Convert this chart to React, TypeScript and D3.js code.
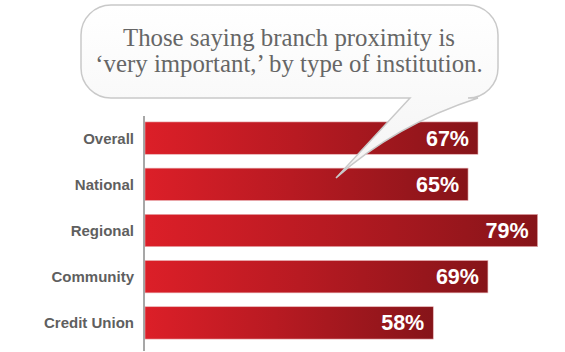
import React, { useEffect, useRef } from 'react';
import * as d3 from 'd3';

const categories = ['Overall', 'National', 'Regional', 'Community', 'Credit Union'];
const values = [67, 65, 79, 69, 58];
const titleLines = ['Those saying branch proximity is', '\u2018very important,\u2019 by type of institution.'];

const W = 565;
const H = 352;

export default function App() {
  const ref = useRef<SVGSVGElement>(null);

  useEffect(() => {
    const svg = d3.select(ref.current);
    svg.selectAll('*').remove();

    const x = d3.scaleLinear().domain([0, 100]).range([145, 642]);
    const y = d3.scaleBand<string>().domain(categories).range([115, 346]).paddingInner(0.3).paddingOuter(0.15);

    const defs = svg.append('defs');
    const grad = defs.append('linearGradient').attr('id', 'barGrad').attr('x1', 0).attr('x2', 1).attr('y1', 0).attr('y2', 0);
    grad.append('stop').attr('offset', '0%').attr('stop-color', '#dc1f28');
    grad.append('stop').attr('offset', '45%').attr('stop-color', '#b81a22');
    grad.append('stop').attr('offset', '100%').attr('stop-color', '#861419');

    const bubbleGrad = defs.append('linearGradient').attr('id', 'bubbleGrad').attr('x1', 0).attr('x2', 0).attr('y1', 0).attr('y2', 1);
    bubbleGrad.append('stop').attr('offset', '0%').attr('stop-color', '#ffffff');
    bubbleGrad.append('stop').attr('offset', '100%').attr('stop-color', '#f4f4f4');

    // bars
    svg.selectAll('rect.bar')
      .data(values)
      .enter()
      .append('rect')
      .attr('class', 'bar')
      .attr('x', x(0))
      .attr('y', (d, i) => y(categories[i])!)
      .attr('width', d => x(d) - x(0))
      .attr('height', y.bandwidth())
      .attr('fill', 'url(#barGrad)')
      .attr('stroke', '#e8b0b3')
      .attr('stroke-width', 0.6);

    // axis line
    svg.append('line')
      .attr('x1', 144).attr('x2', 144)
      .attr('y1', 116).attr('y2', 351)
      .attr('stroke', '#8a8a8a')
      .attr('stroke-width', 1.5);

    // category labels
    svg.selectAll('text.cat')
      .data(categories)
      .enter()
      .append('text')
      .attr('class', 'cat')
      .text(d => d)
      .attr('x', 134)
      .attr('y', d => y(d)! + y.bandwidth() / 2 + 5.5)
      .attr('text-anchor', 'end')
      .attr('font-family', 'Liberation Sans, Arial, sans-serif')
      .attr('font-weight', 'bold')
      .attr('font-size', '15px')
      .attr('fill', '#5f5f5f');

    // speech bubble
    const bx0 = 81, bx1 = 498, by0 = 5, by1 = 98, r = 30;
    const bubble = d3.path();
    bubble.moveTo(bx0 + r, by0);
    bubble.arcTo(bx1, by0, bx1, by1, r);
    bubble.arcTo(bx1, by1, bx0, by1, r);
    bubble.lineTo(478, by1);
    bubble.quadraticCurveTo(395, 125, 336, 178);
    bubble.lineTo(410, by1);
    bubble.arcTo(bx0, by1, bx0, by0, r);
    bubble.arcTo(bx0, by0, bx1, by0, r);
    bubble.closePath();

    svg.append('path')
      .attr('d', bubble.toString())
      .attr('fill', 'url(#bubbleGrad)')
      .attr('stroke', '#c9c9c9')
      .attr('stroke-width', 1.5);

    // value labels
    svg.selectAll('text.val')
      .data(values)
      .enter()
      .append('text')
      .attr('class', 'val')
      .text(d => d + '%')
      .attr('x', d => x(d) - 9)
      .attr('y', (d, i) => y(categories[i])! + y.bandwidth() / 2 + 7.5)
      .attr('text-anchor', 'end')
      .attr('font-family', 'Liberation Sans, Arial, sans-serif')
      .attr('font-weight', 'bold')
      .attr('font-size', '21.5px')
      .attr('fill', '#ffffff');

    // title
    svg.selectAll('text.title')
      .data(titleLines)
      .enter()
      .append('text')
      .attr('class', 'title')
      .text(d => d)
      .attr('x', 289)
      .attr('y', (d, i) => 46 + i * 26)
      .attr('text-anchor', 'middle')
      .attr('font-family', 'Liberation Serif, Times New Roman, serif')
      .attr('font-size', '24.8px')
      .attr('fill', '#666666');
  }, []);

  return (
    <svg ref={ref} width={W} height={H} style={{ position: 'absolute', left: 0, top: 0, background: '#fff' }} />
  );
}
